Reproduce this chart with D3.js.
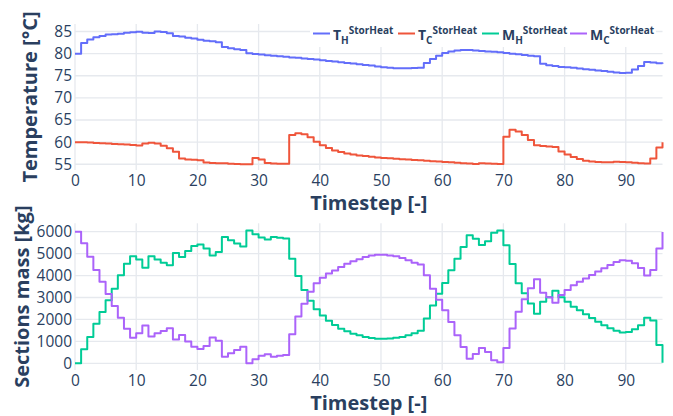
<!DOCTYPE html>
<html>
<head>
<meta charset="utf-8">
<script src="https://cdn.jsdelivr.net/npm/d3@7"></script>
<style>
  body { margin: 0; background: #fff; }
  svg { font-family: "Open Sans", Verdana, Arial, sans-serif; }
</style>
</head>
<body>
<div id="chart"></div>
<script>
// Storage heater results, one value per timestep (0..96)
const timesteps = d3.range(0, 97);

const tHot = [80.0, 82.4, 83.2, 83.7, 84.0, 84.3, 84.4, 84.5, 84.7, 84.85,
  84.95, 84.75, 84.65, 85.0, 84.9, 84.6, 84.0, 83.85, 83.6, 83.4,
  83.15, 82.9, 82.8, 82.6, 81.5, 81.2, 81.0, 80.8, 80.1, 79.9,
  79.8, 79.65, 79.55, 79.4, 79.3, 79.15, 79.05, 78.9, 78.8, 78.65,
  78.5, 78.35, 78.2, 78.05, 77.9, 77.75, 77.6, 77.45, 77.3, 77.1,
  76.95, 76.8, 76.7, 76.7, 76.7, 76.75, 76.8, 77.9, 78.8, 79.5,
  80.15, 80.5, 80.7, 80.8, 80.8, 80.7, 80.6, 80.5, 80.4, 80.3,
  80.15, 80.0, 79.85, 79.7, 79.55, 79.4, 77.7, 77.4, 77.2, 77.0,
  76.9, 76.8, 76.65, 76.5, 76.35, 76.2, 76.05, 75.9, 75.75, 75.6,
  75.7, 76.4, 77.2, 78.1, 78.0, 77.85, 77.7];

const tCold = [60.0, 59.95, 59.9, 59.8, 59.75, 59.7, 59.6, 59.5, 59.45, 59.35,
  59.25, 59.7, 59.85, 59.7, 59.2, 58.6, 57.8, 56.3, 56.1, 56.0,
  55.9, 55.4, 55.3, 55.25, 55.2, 55.1, 55.05, 55.0, 55.0, 56.4,
  56.1, 55.3, 55.15, 55.1, 55.1, 61.6, 62.0, 61.8, 61.1, 60.1,
  59.3, 58.7, 58.1, 57.75, 57.45, 57.2, 57.0, 56.85, 56.7, 56.55,
  56.4, 56.35, 56.25, 56.15, 56.05, 55.95, 55.9, 55.8, 55.7, 55.6,
  55.5, 55.45, 55.35, 55.25, 55.15, 55.05, 55.2, 55.15, 55.1, 55.05,
  61.2, 62.8, 62.4, 61.6, 60.5, 59.3, 59.1, 59.0, 58.9, 57.9,
  57.2, 56.65, 56.2, 55.8, 55.6, 55.5, 55.45, 55.45, 55.55, 55.5,
  55.45, 55.35, 55.25, 55.15, 56.3, 58.8, 60.0];

const mHot = [0, 640, 1200, 1800, 2340, 2870, 3400, 4010, 4540, 4880,
  4730, 4360, 4880, 4730, 4590, 4470, 5030, 4850, 5120, 5350,
  5420, 5230, 4920, 5080, 5760, 5610, 5460, 5330, 6050, 5880,
  5730, 5640, 5760, 5720, 5690, 4770, 3980, 3340, 2850, 2460,
  2180, 1940, 1750, 1580, 1460, 1350, 1280, 1200, 1155, 1125,
  1120, 1130, 1160, 1200, 1280, 1370, 1490, 2040, 2640, 3170,
  3660, 4240, 4770, 5300, 5840, 5680, 5390, 5560, 5950, 6050,
  5380, 4530, 3650, 3190, 2730, 2260, 2810, 3010, 3310, 3010,
  2810, 2580, 2420, 2240, 2060, 1900, 1740, 1600, 1480, 1400,
  1430, 1550, 1740, 2080, 1950, 830, 30];

const mCold = [6000, 5470, 4860, 4250, 3720, 3160, 2610, 2080, 1570, 1170,
  1370, 1720, 1220, 1370, 1470, 1600, 1090, 1290, 990, 760,
  650, 790, 1180, 1030, 300, 460, 610, 760, 0, 180,
  350, 410, 300, 350, 380, 1320, 2130, 2710, 3260, 3650,
  3900, 4100, 4230, 4390, 4540, 4650, 4740, 4850, 4920, 4950,
  4950, 4920, 4880, 4800, 4700, 4590, 4500, 4010, 3400, 2900,
  2420, 1880, 1280, 740, 210, 420, 700, 520, 140, 50,
  700, 1590, 2350, 2920, 3420, 3830, 3220, 3010, 2760, 3110,
  3340, 3560, 3720, 3870, 4030, 4180, 4330, 4480, 4620, 4700,
  4680, 4560, 4350, 4000, 4250, 5230, 5990];

const xTicks = [0, 10, 20, 30, 40, 50, 60, 70, 80, 90];
const tempTicks = [55, 60, 65, 70, 75, 80, 85];
const massTicks = [0, 1000, 2000, 3000, 4000, 5000, 6000];

const series = [
  { name: "T", sub: "H", values: tHot, color: "#636efa", panel: "top" },
  { name: "T", sub: "C", values: tCold, color: "#EF553B", panel: "top" },
  { name: "M", sub: "H", values: mHot, color: "#00cc96", panel: "bottom" },
  { name: "M", sub: "C", values: mCold, color: "#ab63fa", panel: "bottom" }
];

const width = 673, height = 416;
const fontColor = "#2a3f5f";
const gridColor = "#e6e9ee";

const svg = d3.select("#chart").append("svg")
  .attr("width", width)
  .attr("height", height);

const x = d3.scaleLinear().domain([0, 96]).range([75, 662.5]);

const panels = {
  top: { y: d3.scaleLinear().domain([53.7, 86.7]).range([170, 24]), ticks: tempTicks, title: "Temperature [°C]", titleX: 30 },
  bottom: { y: d3.scaleLinear().domain([-305, 6383]).range([370, 223.3]), ticks: massTicks, title: "Sections mass [kg]", titleX: 22 }
};

Object.values(panels).forEach(p => {
  const [yBottom, yTop] = p.y.range();
  const g = svg.append("g");

  // grid lines
  g.append("g").selectAll("line").data(xTicks).enter().append("line")
    .attr("x1", d => x(d)).attr("x2", d => x(d))
    .attr("y1", yTop).attr("y2", yBottom)
    .attr("stroke", gridColor).attr("stroke-width", 1.3);
  g.append("g").selectAll("line").data(p.ticks).enter().append("line")
    .attr("x1", x.range()[0]).attr("x2", x.range()[1])
    .attr("y1", d => p.y(d)).attr("y2", d => p.y(d))
    .attr("stroke", gridColor).attr("stroke-width", 1.3);

  // axes
  const xAxis = g.append("g")
    .attr("transform", `translate(0,${yBottom})`)
    .call(d3.axisBottom(x).tickValues(xTicks).tickSize(0).tickPadding(5));
  const yAxis = g.append("g")
    .attr("transform", `translate(${x.range()[0]},0)`)
    .call(d3.axisLeft(p.y).tickValues(p.ticks).tickSize(0).tickPadding(3).tickFormat(d3.format("d")));
  [xAxis, yAxis].forEach(a => {
    a.select(".domain").remove();
    a.selectAll("text")
      .attr("fill", fontColor)
      .style("font-size", "15.5px")
      .style("font-family", '"Open Sans", Verdana, Arial, sans-serif');
  });

  // axis titles
  g.append("text")
    .attr("x", (x.range()[0] + x.range()[1]) / 2)
    .attr("y", yBottom + 40)
    .attr("text-anchor", "middle")
    .attr("fill", fontColor)
    .style("font-size", "20px")
    .style("font-weight", "bold")
    .text("Timestep [-]");
  g.append("text")
    .attr("transform", `translate(${p.titleX + 7},${(yTop + yBottom) / 2}) rotate(-90)`)
    .attr("text-anchor", "middle")
    .attr("fill", fontColor)
    .style("font-size", "20px")
    .style("font-weight", "bold")
    .text(p.title);
});

// the step lines
series.forEach(s => {
  const yScale = panels[s.panel].y;
  const line = d3.line()
    .x((d, i) => x(timesteps[i]))
    .y(d => yScale(d))
    .curve(d3.curveStepAfter);
  svg.append("path")
    .datum(s.values)
    .attr("fill", "none")
    .attr("stroke", s.color)
    .attr("stroke-width", 2)
    .attr("stroke-linejoin", "round")
    .attr("d", line);
});

// legend (horizontal, top right)
const legend = svg.append("g");
legend.append("rect")
  .attr("x", 310).attr("y", 22)
  .attr("width", 346).attr("height", 25)
  .attr("fill", "#fff");

const legendX = [313, 398, 482, 570];
series.forEach((s, i) => {
  const item = legend.append("g").attr("transform", `translate(${legendX[i]},0)`);
  item.append("line")
    .attr("x1", 0).attr("x2", 17)
    .attr("y1", 33.5).attr("y2", 33.5)
    .attr("stroke", s.color).attr("stroke-width", 2);
  const t = item.append("text")
    .attr("x", 20).attr("y", 39.5)
    .attr("fill", fontColor)
    .style("font-size", "14px")
    .style("font-weight", "bold");
  t.append("tspan").text(s.name);
  t.append("tspan").attr("dy", 4).style("font-size", "10px").text(s.sub);
  t.append("tspan").attr("dy", -10).style("font-size", "10px").text("StorHeat");
});
</script>
</body>
</html>
